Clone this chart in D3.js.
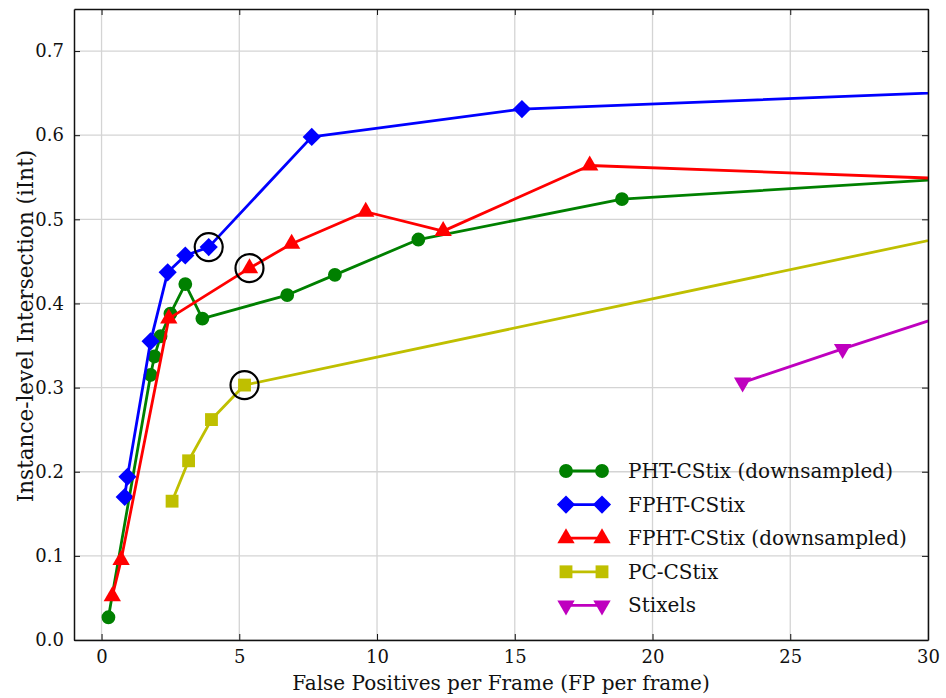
<!DOCTYPE html>
<html>
<head>
<meta charset="utf-8">
<script src="https://cdn.jsdelivr.net/npm/d3@7"></script>
<style>
  body { margin: 0; background: #fff; }
  svg text { font-family: "DejaVu Serif", "Liberation Serif", serif; fill: #111; }
</style>
</head>
<body>
<svg width="946" height="698"></svg>
<script>
// series values (x = FP per frame, y = iInt)
const phtDownX = [0.25, 1.78, 1.92, 2.14, 2.5, 3.04, 3.66, 6.74, 8.47, 11.5, 18.89, 40];
const phtDownY = [0.027, 0.315, 0.337, 0.361, 0.388, 0.423, 0.382, 0.41, 0.434, 0.476, 0.524, 0.567];
const fphtX = [0.84, 0.94, 1.78, 2.4, 3.04, 3.89, 7.63, 15.26, 40];
const fphtY = [0.17, 0.194, 0.355, 0.437, 0.457, 0.467, 0.598, 0.631, 0.663];
const fphtDownX = [0.39, 0.71, 2.44, 5.37, 6.9, 9.59, 12.4, 17.72, 40];
const fphtDownY = [0.052, 0.095, 0.382, 0.442, 0.471, 0.509, 0.486, 0.564, 0.537];
const pcX = [2.56, 3.16, 3.99, 5.19, 40];
const pcY = [0.165, 0.213, 0.262, 0.303, 0.544];
const stixX = [23.27, 26.9, 32.4];
const stixY = [0.306, 0.346, 0.405];
// highlighted operating points (black rings)
const ringX = [3.89, 5.37, 5.19];
const ringY = [0.467, 0.442, 0.303];

const xTicks = [0, 5, 10, 15, 20, 25, 30];
const yTicks = [0.0, 0.1, 0.2, 0.3, 0.4, 0.5, 0.6, 0.7];

const series = [
  { name: 'PHT-CStix (downsampled)', xs: phtDownX, ys: phtDownY, color: '#008000', symbol: d3.symbolCircle, size: 150, rot: 0 },
  { name: 'FPHT-CStix', xs: fphtX, ys: fphtY, color: '#0000ff', symbol: d3.symbolSquare, size: 165, rot: 45 },
  { name: 'FPHT-CStix (downsampled)', xs: fphtDownX, ys: fphtDownY, color: '#ff0000', symbol: d3.symbolTriangle, size: 130, rot: 0 },
  { name: 'PC-CStix', xs: pcX, ys: pcY, color: '#bfbf00', symbol: d3.symbolSquare, size: 165, rot: 0 },
  { name: 'Stixels', xs: stixX, ys: stixY, color: '#bf00bf', symbol: d3.symbolTriangle, size: 130, rot: 180 }
];

const margin = { left: 74, right: 18, top: 9, bottom: 58 };
const width = 946, height = 698;
const svg = d3.select('svg');

const x = d3.scaleLinear().domain([-1, 30]).range([margin.left, width - margin.right]);
const y = d3.scaleLinear().domain([0, 0.75]).range([height - margin.bottom, margin.top]);

svg.append('defs').append('clipPath').attr('id', 'plot-clip')
  .append('rect')
    .attr('x', x.range()[0]).attr('y', y.range()[1])
    .attr('width', x.range()[1] - x.range()[0])
    .attr('height', y.range()[0] - y.range()[1]);

// grid
svg.append('g')
  .selectAll('line')
  .data(xTicks)
  .enter().append('line')
    .attr('x1', d => x(d)).attr('x2', d => x(d))
    .attr('y1', y.range()[0]).attr('y2', y.range()[1])
    .attr('stroke', '#d4d4d4').attr('stroke-width', 1.3);
svg.append('g')
  .selectAll('line')
  .data(yTicks)
  .enter().append('line')
    .attr('y1', d => y(d)).attr('y2', d => y(d))
    .attr('x1', x.range()[0]).attr('x2', x.range()[1])
    .attr('stroke', '#d4d4d4').attr('stroke-width', 1.3);

// axes, ticks pointing inward on all four sides
const axisBottom = d3.axisBottom(x).tickValues(xTicks).tickFormat(d3.format('d')).tickSizeInner(-6).tickSizeOuter(0).tickPadding(10);
const axisTop = d3.axisTop(x).tickValues(xTicks).tickFormat('').tickSizeInner(-6).tickSizeOuter(0);
const axisLeft = d3.axisLeft(y).tickValues(yTicks).tickFormat(d3.format('.1f')).tickSizeInner(-6).tickSizeOuter(0).tickPadding(10);
const axisRight = d3.axisRight(y).tickValues(yTicks).tickFormat('').tickSizeInner(-6).tickSizeOuter(0);

const styleAxis = g => {
  g.selectAll('.domain').attr('stroke', '#111').attr('stroke-width', 1.5);
  g.selectAll('.tick line').attr('stroke', '#111').attr('stroke-width', 1);
  g.selectAll('.tick text').style('font-size', '18px').attr('fill', '#111');
};

const plot = svg.append('g').attr('clip-path', 'url(#plot-clip)');

series.forEach(s => {
  const pts = s.xs.map((v, i) => [v, s.ys[i]]);
  const line = d3.line().x(d => x(d[0])).y(d => y(d[1]));
  const g = plot.append('g');
  g.append('path')
    .datum(pts)
    .attr('d', line)
    .attr('fill', 'none')
    .attr('stroke', s.color)
    .attr('stroke-width', 2.8)
    .attr('stroke-linejoin', 'round');
  g.selectAll('path.mk')
    .data(pts)
    .enter().append('path')
      .attr('class', 'mk')
      .attr('d', d3.symbol().type(s.symbol).size(s.size))
      .attr('transform', d => `translate(${x(d[0])},${y(d[1])}) rotate(${s.rot})`)
      .attr('fill', s.color);
});

plot.selectAll('circle.ring')
  .data(ringX.map((v, i) => [v, ringY[i]]))
  .enter().append('circle')
    .attr('cx', d => x(d[0]))
    .attr('cy', d => y(d[1]))
    .attr('r', 14)
    .attr('fill', 'none')
    .attr('stroke', '#000')
    .attr('stroke-width', 2.2);

svg.append('g').attr('transform', `translate(0,${y.range()[0]})`).call(axisBottom).call(styleAxis);
svg.append('g').attr('transform', `translate(0,${y.range()[1]})`).call(axisTop).call(styleAxis);
svg.append('g').attr('transform', `translate(${x.range()[0]},0)`).call(axisLeft).call(styleAxis);
svg.append('g').attr('transform', `translate(${x.range()[1]},0)`).call(axisRight).call(styleAxis);

// axis titles
svg.append('text')
  .text('False Positives per Frame (FP per frame)')
  .attr('x', (x.range()[0] + x.range()[1]) / 2)
  .attr('y', 690)
  .attr('text-anchor', 'middle')
  .style('font-size', '20px');
svg.append('text')
  .text('Instance-level Intersection (iInt)')
  .attr('transform', 'translate(33,326) rotate(-90)')
  .attr('text-anchor', 'middle')
  .style('font-size', '21.5px');

// legend
const legend = svg.append('g').attr('transform', 'translate(566,471)');
const rows = legend.selectAll('g')
  .data(series)
  .enter().append('g')
    .attr('transform', (d, i) => `translate(0,${i * 33.6})`);
rows.append('line')
  .attr('x1', 0).attr('x2', 36)
  .attr('stroke', d => d.color)
  .attr('stroke-width', 2.8);
rows.selectAll('path')
  .data(d => [0, 36].map(px => ({ s: d, px })))
  .enter().append('path')
    .attr('d', d => d3.symbol().type(d.s.symbol).size(d.s.size)())
    .attr('transform', d => `translate(${d.px},0) rotate(${d.s.rot})`)
    .attr('fill', d => d.s.color);
rows.append('text')
  .text(d => d.name)
  .attr('x', 62)
  .attr('dy', '0.35em')
  .style('font-size', '20px');
</script>
</body>
</html>
